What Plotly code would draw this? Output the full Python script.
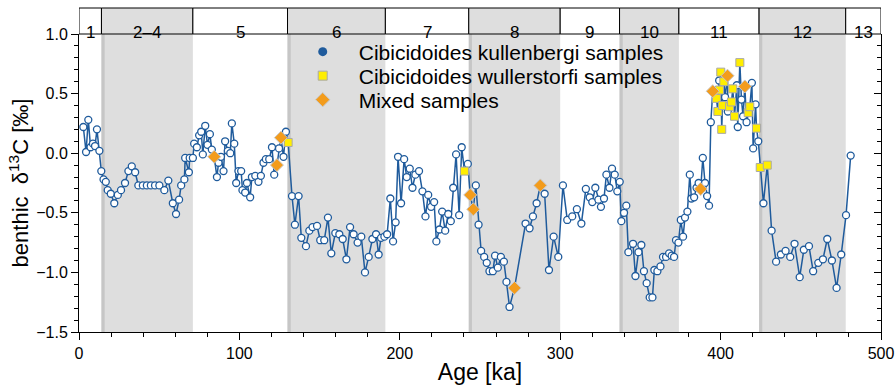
import plotly.graph_objects as go

# Benthic foraminifera stable carbon isotope record (age in ka, d13C in permil)
age = [
    2.7, 4.4, 5.8, 7.2, 8.7, 10.0, 11.2, 12.7, 13.9, 15.3, 16.7, 17.9, 19.8, 22.0, 24.2, 26.2,
    28.7, 30.8, 32.9, 35.0, 37.0, 39.8, 42.3, 44.8, 47.4, 50.1, 53.2, 55.7, 58.5, 60.5, 62.4,
    63.7, 65.7, 66.2, 68.5, 69.0, 71.0, 71.8, 73.5, 74.9, 76.2, 77.2, 78.7, 80.1, 81.6, 82.8,
    84.3, 86.0, 87.0, 88.5, 90.1, 91.1, 92.8, 94.3, 95.3, 96.8, 98.0, 99.4, 101.1, 101.9,
    103.6, 104.7, 106.7, 107.8, 109.9, 111.9, 113.4, 115.0, 116.5, 118.6, 120.3, 121.7,
    123.4, 124.7, 125.9, 127.5, 129.0, 130.4, 132.8, 134.6, 136.9, 138.6, 141.5, 143.6,
    145.6, 148.4, 150.4, 152.9, 155.2, 157.3, 159.8, 162.3, 164.4, 166.7, 169.0, 171.2,
    173.7, 176.0, 178.3, 180.6, 182.9, 185.2, 186.8, 188.3, 190.4, 192.1, 194.1, 195.8,
    197.4, 198.9, 200.8, 202.7, 204.3, 206.2, 207.9, 209.7, 212.0, 214.1, 216.0, 217.7,
    219.5, 221.4, 222.8, 224.7, 226.4, 228.3, 230.2, 231.8, 233.3, 235.1, 237.0, 238.6,
    240.3, 242.4, 243.9, 245.8, 247.4, 249.1, 250.7, 252.6, 254.2, 255.9, 258.0, 259.4,
    261.1, 263.0, 264.9, 266.5, 268.4, 271.5, 278.4, 280.9, 283.0, 285.3, 287.6, 290.3,
    293.0, 295.9, 298.8, 301.7, 304.4, 307.5, 310.4, 313.2, 316.0, 318.4, 320.0, 321.9,
    323.8, 325.4, 327.3, 328.8, 330.7, 332.3, 334.0, 335.6, 337.1, 338.1, 339.8, 341.2,
    342.5, 345.4, 346.9, 348.8, 350.6, 352.2, 353.9, 355.8, 357.5, 358.7, 360.6, 362.5,
    364.1, 366.0, 367.9, 369.5, 371.0, 372.2, 373.7, 375.2, 376.6, 377.8, 379.3, 380.8,
    381.8, 383.5, 385.0, 386.3, 387.6, 388.9, 390.3, 391.6, 392.8, 393.9, 395.1, 397.4,
    398.3, 399.1, 399.3, 400.1, 400.7, 401.2, 402.0, 402.8, 404.3, 404.5, 405.6, 406.8,
    407.6, 408.7, 410.1, 410.7, 412.0, 413.0, 414.0, 415.1, 416.2, 417.2, 418.2, 419.5,
    420.3, 421.8, 422.4, 423.5, 424.7, 426.7, 429.1, 431.8, 434.6, 437.6, 440.5, 443.4,
    446.1, 449.3, 451.9, 455.1, 457.7, 460.9, 463.8, 466.5, 469.4, 472.3, 475.2, 478.2,
    481.1,
]
d13c = [
    0.22, 0.01, 0.28, 0.05, 0.08, 0.06, 0.20, 0.02, -0.15, -0.22, -0.24, -0.31, -0.34, -0.42,
    -0.35, -0.31, -0.25, -0.15, -0.11, -0.16, -0.27, -0.27, -0.27, -0.27, -0.27, -0.27, -0.31,
    -0.23, -0.42, -0.51, -0.39, -0.27, -0.22, -0.04, -0.16, -0.04, -0.04, 0.08, 0.05, 0.15,
    0.18, -0.01, 0.23, 0.07, 0.16, 0.03, -0.03, -0.20, -0.08, -0.03, -0.15, 0.10, 0.02, 0.00,
    0.25, 0.08, -0.25, -0.15, -0.15, -0.31, -0.33, -0.25, -0.37, -0.20, -0.19, -0.24, -0.19,
    -0.08, -0.05, -0.05, 0.05, -0.18, -0.10, 0.04, 0.13, -0.03, 0.18, 0.09, -0.36, -0.60,
    -0.36, -0.71, -0.78, -0.65, -0.62, -0.61, -0.73, -0.73, -0.54, -0.84, -0.67, -0.68,
    -0.72, -0.89, -0.62, -0.68, -0.75, -0.70, -1.00, -0.87, -0.72, -0.68, -0.85, -0.71,
    -0.70, -0.68, -0.38, -0.74, -0.58, -0.03, -0.42, -0.05, -0.20, -0.13, -0.29, -0.18,
    -0.15, -0.32, -0.53, -0.35, -0.45, -0.41, -0.74, -0.64, -0.49, -0.65, -0.51, -0.57,
    -0.29, -0.01, -0.52, 0.05, -0.15, -0.09, -0.35, -0.47, -0.27, -0.60, -0.82, -0.87,
    -0.92, -0.99, -0.99, -0.86, -0.96, -0.87, -0.91, -1.08, -1.29, -1.13, -0.59, -0.63,
    -0.53, -0.42, -0.27, -0.34, -0.98, -0.70, -0.87, -0.27, -0.56, -0.53, -0.47, -0.59,
    -0.30, -0.37, -0.41, -0.29, -0.39, -0.45, -0.38, -0.18, -0.29, -0.13, -0.18, -0.32,
    -0.24, -0.57, -0.50, -0.44, -0.83, -0.76, -1.03, -0.83, -0.77, -0.99, -1.09, -1.21,
    -1.21, -0.98, -0.99, -0.95, -0.87, -0.87, -0.84, -0.86, -0.87, -0.73, -0.75, -0.56,
    -0.70, -0.54, -0.49, -0.18, -0.38, -0.37, -0.29, -0.25, -0.30, -0.04, -0.25, -0.36,
    -0.44, 0.26, 0.52, 0.46, 0.35, 0.61, 0.53, 0.68, 0.20, 0.40, 0.60, 0.47, 0.65, 0.35,
    0.39, 0.43, 0.54, 0.31, 0.57, 0.22, 0.76, 0.45, 0.31, 0.56, 0.26, 0.34, 0.39, 0.59,
    0.04, 0.41, 0.21, 0.10, -0.12, -0.42, -0.10, -0.65, -0.91, -0.85, -0.82, -0.87, -0.76,
    -1.04, -0.81, -0.78, -0.99, -0.92, -0.89, -0.72, -0.90, -1.13, -0.85, -0.52, -0.02,
]
# Species measured: K = C. kullenbergi, W = C. wuellerstorfi, M = mixed
species = [
    "K", "K", "K", "K", "K", "K", "K", "K", "K", "K", "K", "K", "K", "K", "K", "K",
    "K", "K", "K", "K", "K", "K", "K", "K", "K", "K", "K", "K", "K", "K", "K",
    "K", "K", "K", "K", "K", "K", "K", "K", "K", "K", "K", "K", "K", "K", "K",
    "M", "K", "K", "K", "K", "K", "K", "K", "K", "K", "K", "K", "K", "K",
    "K", "K", "K", "K", "K", "K", "K", "K", "K", "K", "K", "K",
    "M", "K", "M", "K", "K", "W", "K", "K", "K", "K", "K", "K",
    "K", "K", "K", "K", "K", "K", "K", "K", "K", "K", "K", "K",
    "K", "K", "K", "K", "K", "K", "K", "K", "K", "K", "K", "K",
    "K", "K", "K", "K", "K", "K", "K", "K", "K", "K", "K", "K",
    "K", "K", "K", "K", "K", "K", "K", "K", "K", "K", "K", "K",
    "W", "K", "M", "M", "K", "K", "K", "K", "K", "K", "K", "K",
    "K", "K", "K", "K", "K", "M", "K", "K", "K", "K", "M", "K",
    "K", "K", "K", "K", "K", "K", "K", "K", "K", "K", "K", "K",
    "K", "K", "K", "K", "K", "K", "K", "K", "K", "K", "K", "K",
    "K", "K", "K", "K", "K", "K", "K", "K", "K", "K", "K", "K",
    "K", "K", "K", "K", "K", "K", "K", "K", "K", "K", "K", "K",
    "K", "K", "K", "K", "M", "K", "K", "K", "K", "K", "M", "W",
    "W", "K", "W", "W", "W", "W", "W", "K", "M", "K", "W", "W",
    "W", "W", "K", "K", "W", "K", "K", "M", "K", "W", "W", "K",
    "K", "K", "W", "K", "W", "K", "W", "K", "K", "K", "K", "K",
    "K", "K", "K", "K", "K", "K", "K", "K", "K", "K", "K", "K",
    "K",
]

# Marine isotope stages: label, start, end (ka), glacial flag
stage_labels = ["1", "2\u20134", "5", "6", "7", "8", "9", "10", "11", "12", "13"]
stage_start = [0, 14, 71, 130, 191, 243, 300, 337, 374, 424, 478]
stage_end = [14, 71, 130, 191, 243, 300, 337, 374, 424, 478, 500]
stage_glacial = [False, True, False, True, False, True, False, True, False, True, False]

BLUE = "#1f5b9c"
YELLOW = "#ffee00"
ORANGE = "#f39c1c"
BAND = "#dedede"
BAND_EDGE = "#c6c6c6"
FONT = "Liberation Sans, Arial, Helvetica, sans-serif"

W, H = 895, 385
M_L, M_R, M_T, M_B = 79, 14, 8, 53
plot_h = H - M_T - M_B
band_h = 26
y_top = (plot_h - band_h) / plot_h


def paper_y(px):
    """Convert a pixel row (from the top of the page) to paper coordinates."""
    return 1 - (px - M_T) / plot_h


fig = go.Figure()


def pick(code):
    xs = [a for a, s in zip(age, species) if s == code]
    ys = [v for v, s in zip(d13c, species) if s == code]
    return xs, ys


fig.add_trace(go.Scatter(x=age, y=d13c, mode="lines",
                         line=dict(color=BLUE, width=1.5),
                         showlegend=False, hoverinfo="skip"))

xk, yk = pick("K")
fig.add_trace(go.Scatter(x=xk, y=yk, mode="markers", showlegend=False,
                         marker=dict(symbol="circle", size=7, color="white",
                                     line=dict(color=BLUE, width=1.3))))
xw, yw = pick("W")
fig.add_trace(go.Scatter(x=xw, y=yw, mode="markers", showlegend=False,
                         marker=dict(symbol="square", size=8, color=YELLOW,
                                     line=dict(color="#a9a9a9", width=1))))
xm, ym = pick("M")
fig.add_trace(go.Scatter(x=xm, y=ym, mode="markers", showlegend=False,
                         marker=dict(symbol="diamond", size=10, color=ORANGE,
                                     line=dict(color="#c8c8c8", width=1))))

# legend keys, one legend per row
fig.add_trace(go.Scatter(x=[None], y=[None], mode="markers", legend="legend",
                         name="Cibicidoides kullenbergi samples",
                         marker=dict(symbol="circle", size=9, color=BLUE)))
fig.add_trace(go.Scatter(x=[None], y=[None], mode="markers", legend="legend2",
                         name="Cibicidoides wullerstorfi samples",
                         marker=dict(symbol="square", size=9, color=YELLOW,
                                     line=dict(color="#a9a9a9", width=1))))
fig.add_trace(go.Scatter(x=[None], y=[None], mode="markers", legend="legend3",
                         name="Mixed samples",
                         marker=dict(symbol="diamond", size=11, color=ORANGE,
                                     line=dict(color="#c8c8c8", width=1))))

shapes = []
annotations = []
for lab, s0, s1, glac in zip(stage_labels, stage_start, stage_end, stage_glacial):
    if glac:
        shapes.append(dict(type="rect", xref="x", yref="y", x0=s0, x1=s1,
                           y0=-1.5, y1=1.0, fillcolor=BAND, line=dict(width=0),
                           layer="below"))
        shapes.append(dict(type="rect", xref="x", yref="y", x0=s0, x1=s0 + 2,
                           y0=-1.5, y1=1.0, fillcolor=BAND_EDGE, line=dict(width=0),
                           layer="below"))
    shapes.append(dict(type="rect", xref="x", yref="paper", x0=s0, x1=s1,
                       y0=y_top, y1=1.0, fillcolor=BAND if glac else "white",
                       line=dict(color="black", width=1), layer="above"))
    annotations.append(dict(x=(s0 + s1) / 2, y=(y_top + 1.0) / 2, xref="x", yref="paper",
                            text=lab, showarrow=False,
                            font=dict(size=17, color="black", family=FONT)))

legend_x = 0.259
legend_style = dict(x=legend_x, xanchor="left", yanchor="middle",
                    bgcolor="rgba(0,0,0,0)", font=dict(size=21, family=FONT),
                    itemwidth=62)

fig.update_layout(
    width=W, height=H,
    margin=dict(l=M_L, r=M_R, t=M_T, b=M_B, autoexpand=False),
    paper_bgcolor="white", plot_bgcolor="white",
    font=dict(family=FONT, color="black"),
    shapes=shapes, annotations=annotations,
    legend=dict(y=paper_y(52), **legend_style),
    legend2=dict(y=paper_y(76), **legend_style),
    legend3=dict(y=paper_y(100), **legend_style),
    xaxis=dict(range=[0, 500], tickvals=[0, 100, 200, 300, 400, 500],
               ticks="outside", ticklen=7, tickwidth=1, tickcolor="black",
               minor=dict(dtick=20, ticks="outside", ticklen=4, tickcolor="black"),
               showline=True, linecolor="black", linewidth=1, automargin=False,
               showgrid=False, zeroline=False, tickfont=dict(size=16),
               title=dict(text="Age [ka]", font=dict(size=23), standoff=4)),
    yaxis=dict(range=[-1.5, 1.0], domain=[0, y_top], dtick=0.5, tick0=0,
               tickformat=".1f", ticks="outside", ticklen=7, tickcolor="black",
               minor=dict(dtick=0.1, ticks="outside", ticklen=4, tickcolor="black"),
               showline=True, linecolor="black", linewidth=1, automargin=False,
               showgrid=False, zeroline=False, tickfont=dict(size=16),
               title=dict(text="benthic  \u03b4<sup>13</sup>C [\u2030]",
                          font=dict(size=22), standoff=1)),
    yaxis2=dict(range=[-1.5, 1.0], overlaying="y", side="right", anchor="x",
                dtick=0.5, tick0=0, ticks="inside", ticklen=7, tickcolor="black",
                minor=dict(dtick=0.1, ticks="inside", ticklen=4, tickcolor="black"),
                showticklabels=False, showline=True, linecolor="black",
                linewidth=1, showgrid=False, zeroline=False, automargin=False),
)

# empty trace to activate the right-hand axis
fig.add_trace(go.Scatter(x=[None], y=[None], yaxis="y2", showlegend=False))

fig.write_html("out.html")
